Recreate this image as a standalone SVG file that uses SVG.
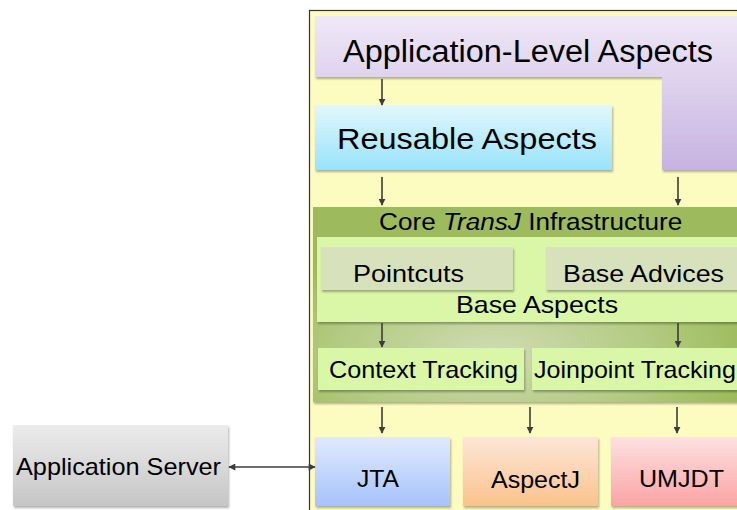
<svg xmlns="http://www.w3.org/2000/svg" width="737" height="510" viewBox="0 0 737 510">
<style>
text{font-family:"Liberation Sans",Arial,sans-serif;fill:#000}
.arr{stroke:#3c3c3c;stroke-width:1.6;fill:none;marker-end:url(#ah)}
.sh{filter:url(#ds)}
</style>
<defs>
<marker id="ah" viewBox="0 0 10 10" refX="9" refY="5" markerWidth="7" markerHeight="7" orient="auto-start-reverse" markerUnits="userSpaceOnUse">
<path d="M0,0 L10,5 L0,10 Z" fill="#3c3c3c"/>
</marker>
<marker id="ah2" viewBox="0 0 10 10" refX="9" refY="5" markerWidth="8" markerHeight="7" orient="auto-start-reverse" markerUnits="userSpaceOnUse">
<path d="M0,0 L10,5 L0,10 Z" fill="#3c3c3c"/>
</marker>
<filter id="ds" x="-10%" y="-10%" width="120%" height="130%">
<feDropShadow dx="1" dy="2" stdDeviation="1.3" flood-color="#000" flood-opacity="0.3"/>
</filter>
<linearGradient id="gPur" x1="0" y1="0" x2="0" y2="1"><stop offset="0" stop-color="#efe9f6"/><stop offset="1" stop-color="#c7b2e1"/></linearGradient>
<linearGradient id="gCy" x1="0" y1="0" x2="0" y2="1"><stop offset="0" stop-color="#e2f7fd"/><stop offset="1" stop-color="#98e3fa"/></linearGradient>
<radialGradient id="gGr" cx="0.42" cy="0.75" r="0.6"><stop offset="0" stop-color="#d0dcb2"/><stop offset="0.6" stop-color="#b3cb82"/><stop offset="1" stop-color="#9dbb5c"/></radialGradient>
<linearGradient id="gBl" x1="0" y1="0" x2="0" y2="1"><stop offset="0" stop-color="#e1eafd"/><stop offset="1" stop-color="#a6c3fb"/></linearGradient>
<linearGradient id="gOr" x1="0" y1="0" x2="0" y2="1"><stop offset="0" stop-color="#fde6d8"/><stop offset="1" stop-color="#fbc38c"/></linearGradient>
<linearGradient id="gRd" x1="0" y1="0" x2="0" y2="1"><stop offset="0" stop-color="#fde1e1"/><stop offset="1" stop-color="#fba4a4"/></linearGradient>
<linearGradient id="gGy" x1="0" y1="0" x2="0" y2="1"><stop offset="0" stop-color="#ececec"/><stop offset="1" stop-color="#c6c6c6"/></linearGradient>
</defs>
<rect width="737" height="510" fill="#fff"/>
<g id="frame">
<rect x="309.5" y="10.5" width="440" height="510" fill="#fcfbc0" stroke="#333" stroke-width="1.2"/>
</g>
<g id="app-level">
<path d="M315,16 H745 V170 H662 V77 H315 Z" fill="url(#gPur)" class="sh"/>
<text x="343" y="62" font-size="31" textLength="370" lengthAdjust="spacingAndGlyphs">Application-Level Aspects</text>
</g>
<g id="reusable">
<rect x="315" y="105" width="297" height="65" fill="url(#gCy)" class="sh"/>
<text x="337" y="149" font-size="30" textLength="260" lengthAdjust="spacingAndGlyphs">Reusable Aspects</text>
</g>
<g id="core">
<rect x="313" y="207" width="432" height="195" fill="url(#gGr)" class="sh"/>
<text transform="translate(379,230) scale(1.09,1)" font-size="24">Core <tspan font-style="italic">TransJ</tspan> Infrastructure</text>
</g>
<g id="base-aspects">
<rect x="317" y="237" width="428" height="85" fill="#d9f7a6" class="sh"/>
<text x="456" y="313" font-size="24" textLength="162" lengthAdjust="spacingAndGlyphs">Base Aspects</text>
</g>
<g id="pointcuts">
<rect x="321" y="247" width="192" height="43" fill="#d7e2bd" class="sh"/>
<text x="353" y="282" font-size="24" textLength="111" lengthAdjust="spacingAndGlyphs">Pointcuts</text>
</g>
<g id="base-advices">
<rect x="546" y="247" width="199" height="43" fill="#d7e2bd" class="sh"/>
<text x="563" y="282" font-size="24" textLength="161" lengthAdjust="spacingAndGlyphs">Base Advices</text>
</g>
<g id="context-tracking">
<rect x="318" y="348" width="206" height="42" fill="#d9f7a6" class="sh"/>
<text x="329" y="378" font-size="24" textLength="189" lengthAdjust="spacingAndGlyphs">Context Tracking</text>
</g>
<g id="joinpoint-tracking">
<rect x="532" y="348" width="213" height="42" fill="#d9f7a6" class="sh"/>
<text x="534" y="378" font-size="24" textLength="202" lengthAdjust="spacingAndGlyphs">Joinpoint Tracking</text>
</g>
<g id="jta">
<rect x="315" y="437" width="135" height="69" fill="url(#gBl)" class="sh"/>
<text x="357" y="487" font-size="23" textLength="42" lengthAdjust="spacingAndGlyphs">JTA</text>
</g>
<g id="aspectj">
<rect x="463" y="437" width="135" height="69" fill="url(#gOr)" class="sh"/>
<text x="491" y="488" font-size="23" textLength="89" lengthAdjust="spacingAndGlyphs">AspectJ</text>
</g>
<g id="umjdt">
<rect x="611" y="437" width="134" height="69" fill="url(#gRd)" class="sh"/>
<text x="639" y="487" font-size="23" textLength="85" lengthAdjust="spacingAndGlyphs">UMJDT</text>
</g>
<g id="app-server">
<rect x="13" y="425" width="215" height="81" fill="url(#gGy)" class="sh"/>
<text x="16" y="475" font-size="24" textLength="205" lengthAdjust="spacingAndGlyphs">Application Server</text>
</g>
<g id="connectors">
<line class="arr" x1="382" y1="79" x2="382" y2="105"/>
<line class="arr" x1="382" y1="177" x2="382" y2="205"/>
<line class="arr" x1="678" y1="177" x2="678" y2="205"/>
<line class="arr" x1="382" y1="323" x2="382" y2="347"/>
<line class="arr" x1="678" y1="323" x2="678" y2="347"/>
<line class="arr" x1="382" y1="407" x2="382" y2="433"/>
<line class="arr" x1="530" y1="407" x2="530" y2="433"/>
<line class="arr" x1="677" y1="407" x2="677" y2="433"/>
<line x1="229" y1="467" x2="315" y2="467" stroke="#3c3c3c" stroke-width="1.6" marker-start="url(#ah2)" marker-end="url(#ah2)"/>
</g>
</svg>
